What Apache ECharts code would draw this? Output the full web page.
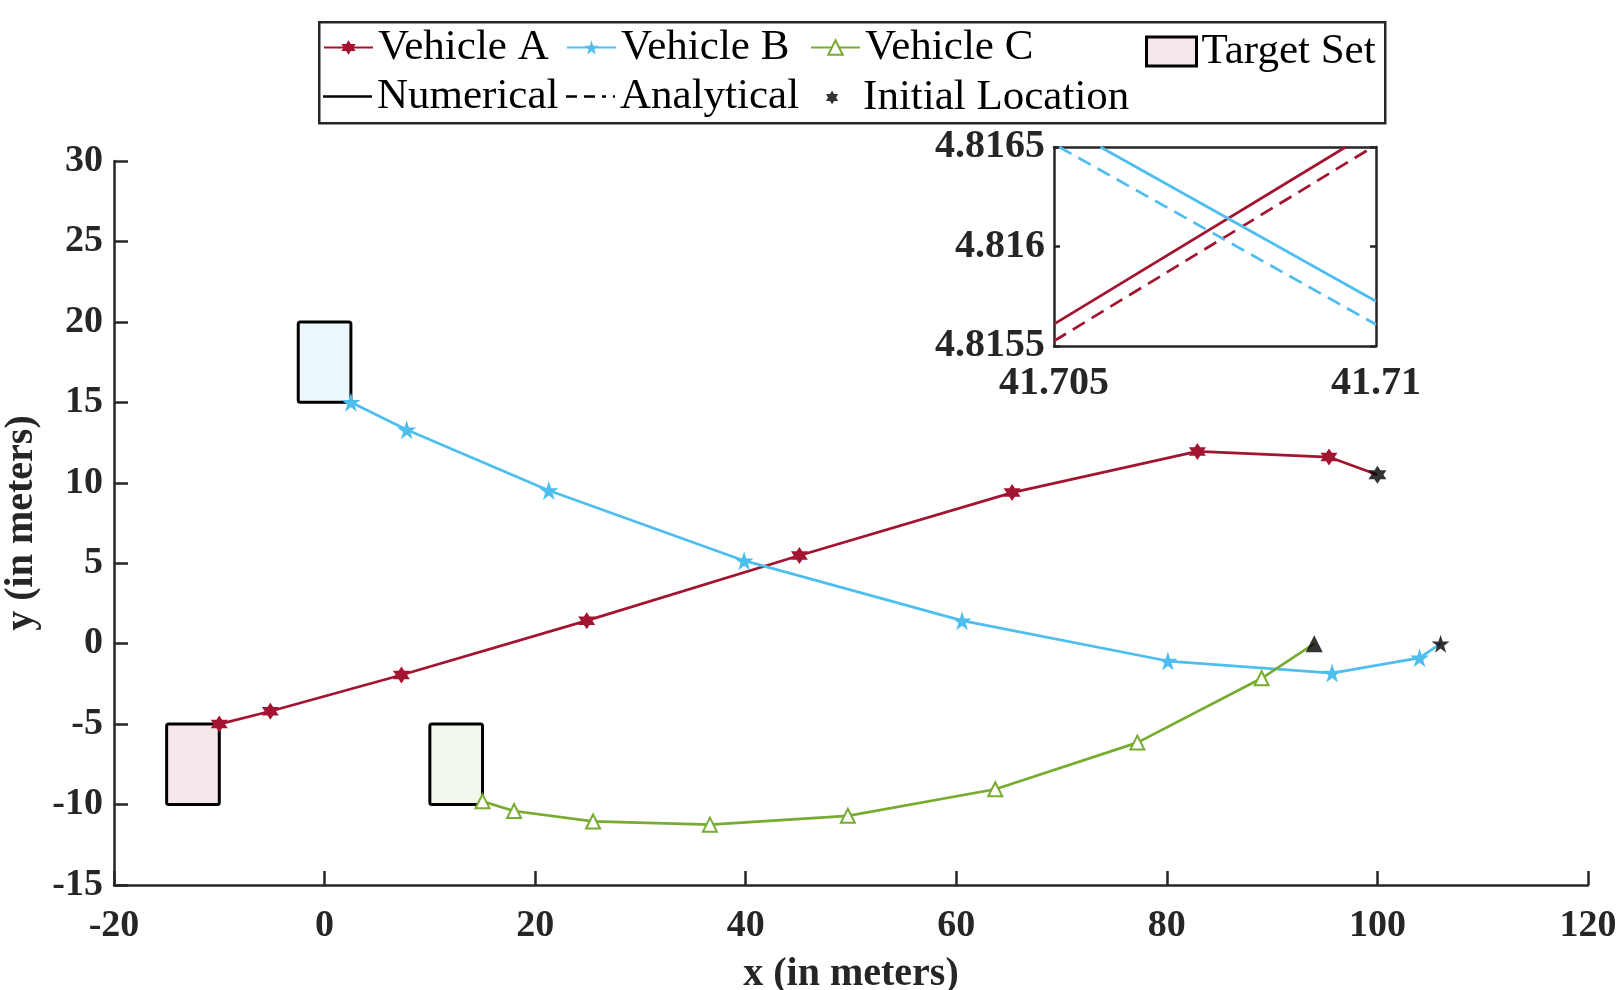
<!DOCTYPE html>
<html>
<head>
<meta charset="utf-8">
<script src="https://cdn.jsdelivr.net/npm/echarts@6/dist/echarts.min.js"></script>
<style>
    html, body {margin: 0; padding: 0; background: #fff;}
    #chart {width: 1620px; height: 990px;}
</style>
</head>
<body>
<div id="chart"></div>
<script>
// 轨迹数据 (x, y)，单位：米
var vehicleA = [[-10, -5], [-5.15, -4.2], [7.3, -1.95], [24.9, 1.43], [45.1, 5.48], [65.3, 9.39], [82.9, 11.95], [95.4, 11.6], [100, 10.5]];
var vehicleB = [[2.5, 15], [7.8, 13.3], [21.3, 9.52], [39.85, 5.16], [60.55, 1.43], [80.1, -1.08], [95.7, -1.83], [104, -0.88], [106, 0]];
var vehicleC = [[15, -9.8], [18, -10.4], [25.5, -11.05], [36.6, -11.25], [49.7, -10.7], [63.7, -9.05], [77.2, -6.15], [89, -2.15], [94, 0]];

// 初始位置
var initialPoints = [[100, 10.5], [106, 0], [94, 0]];

// 目标区域 [xmin, ymin, xmax, ymax]
var targetRects = [[-15, -10, -10, -5], [-2.5, 15, 2.5, 20], [10, -10, 15, -5]];
var targetFills = ['#F6E8EA', '#EDF8FD', '#F1F7EA'];

// 放大图 (交叉点附近)
var zoomANum = [[41.705, 4.81561], [41.70953, 4.8165]];
var zoomAAna = [[41.705, 4.815525], [41.70995, 4.8165]];
var zoomBNum = [[41.70572, 4.8165], [41.71, 4.815725]];
var zoomBAna = [[41.70508, 4.8165], [41.71, 4.815608]];

var colorA = '#A2142F';
var colorB = '#4DBEEE';
var colorC = '#77AC30';
var axisColor = '#262626';
var fontFamily = "'Liberation Serif', 'Times New Roman', serif";

var hexagram = 'path://M0,-1 L0.2887,-0.5 L0.866,-0.5 L0.5774,0 L0.866,0.5 L0.2887,0.5 L0,1 L-0.2887,0.5 L-0.866,0.5 L-0.5774,0 L-0.866,-0.5 L-0.2887,-0.5 Z';
var pentagram = 'path://M0,-1 L0.2245,-0.309 L0.951,-0.309 L0.3633,0.118 L0.5878,0.809 L0,0.382 L-0.5878,0.809 L-0.3633,0.118 L-0.951,-0.309 L-0.2245,-0.309 Z';
var initialSymbols = [hexagram, pentagram, 'triangle'];
// 图例中的实线 / 虚线图标
var solidIcon = 'path://M0,0 L49,0 L49,2.5 L0,2.5 Z';
var dashIcon = 'path://M0,0 L11,0 L11,2.5 L0,2.5 Z M18,0 L29,0 L29,2.5 L18,2.5 Z M36,0 L40,0 L40,2.5 L36,2.5 Z M47,0 L49,0 L49,2.5 L47,2.5 Z';

var tickFont = {color: axisColor, fontFamily: fontFamily, fontWeight: 'bold', fontSize: 38};
var insetFont = {color: axisColor, fontFamily: fontFamily, fontWeight: 'bold', fontSize: 40};
var titleFont = {color: axisColor, fontFamily: fontFamily, fontWeight: 'bold', fontSize: 40};

function trimNum(digits) {
    return function (v) {
        return String(+(+v).toFixed(digits));
    };
}

// 主图坐标轴
var mainX = {
    gridIndex: 0, type: 'value', min: -20, max: 120, interval: 20,
    name: 'x (in meters)', nameLocation: 'middle', nameGap: 70,
    nameTextStyle: titleFont,
    axisLine: {show: true, onZero: false, lineStyle: {color: axisColor, width: 2.5}},
    axisTick: {show: true, inside: true, length: 14, lineStyle: {color: axisColor, width: 2.5}},
    axisLabel: Object.assign({margin: 22}, tickFont),
    splitLine: {show: false}
};
var mainY = {
    gridIndex: 0, type: 'value', min: -15, max: 30, interval: 5,
    name: 'y (in meters)', nameLocation: 'middle', nameGap: 64, nameRotate: 90,
    nameTextStyle: titleFont,
    axisLine: {show: true, onZero: false, lineStyle: {color: axisColor, width: 2.5}},
    axisTick: {show: true, inside: true, length: 14, lineStyle: {color: axisColor, width: 2.5}},
    axisLabel: Object.assign({margin: 11}, tickFont),
    splitLine: {show: false}
};

// 放大图坐标轴 (四边框)
var frameLine = {show: true, onZero: false, lineStyle: {color: axisColor, width: 2.5}};
var insetXBottom = {
    gridIndex: 1, type: 'value', min: 41.705, max: 41.71, interval: 0.005, position: 'bottom',
    axisLine: frameLine, axisTick: {show: false},
    axisLabel: Object.assign({margin: 18, formatter: trimNum(4), showMinLabel: true, showMaxLabel: true}, insetFont),
    splitLine: {show: false}
};
var insetXTop = {
    gridIndex: 1, type: 'value', min: 41.705, max: 41.71, interval: 0.005, position: 'top',
    axisLine: frameLine, axisTick: {show: false}, axisLabel: {show: false}, splitLine: {show: false}
};
var insetYLeft = {
    gridIndex: 1, type: 'value', min: 4.8155, max: 4.8165, interval: 0.0005, position: 'left',
    axisLine: frameLine,
    axisTick: {show: true, inside: true, length: 6, lineStyle: {color: axisColor, width: 2.5}},
    axisLabel: Object.assign({margin: 9, formatter: trimNum(5), showMinLabel: true, showMaxLabel: true}, insetFont),
    splitLine: {show: false}
};
var insetYRight = {
    gridIndex: 1, type: 'value', min: 4.8155, max: 4.8165, interval: 0.0005, position: 'right',
    axisLine: frameLine,
    axisTick: {show: true, inside: true, length: 6, lineStyle: {color: axisColor, width: 2.5}},
    axisLabel: {show: false}, splitLine: {show: false}
};

function vehicleSeries(name, data, color, symbol, size) {
    var last = data.length - 1;
    return {
        name: name, type: 'line', xAxisIndex: 0, yAxisIndex: 0,
        data: data,
        symbol: symbol, showAllSymbol: true,
        // 最后一个点由“初始位置”系列画出
        symbolSize: function (v, p) { return p.dataIndex === last ? 0 : size; },
        itemStyle: {color: color, borderColor: color, borderWidth: symbol === 'emptyTriangle' ? 2.5 : 0},
        lineStyle: {color: color, width: 2.7},
        z: 3
    };
}

function insetSeries(data, color, dashed) {
    return {
        type: 'line', xAxisIndex: 1, yAxisIndex: 1, data: data,
        symbol: 'none', clip: true,
        lineStyle: {color: color, width: 2.7, type: dashed ? [14, 8] : 'solid'},
        z: 3
    };
}

var legendText = {color: '#000', fontFamily: fontFamily, fontSize: 43};
function legendAt(name, left, top, width, height, extra, textPad) {
    var item = Object.assign({name: name}, extra || {});
    var text = Object.assign({}, legendText);
    if (textPad) {
        text.padding = [0, 0, 0, textPad];
    }
    return {
        left: left, top: top, orient: 'horizontal', itemWidth: width, itemHeight: height,
        padding: 0, selectedMode: false, textStyle: text, data: [item]
    };
}

var chartDom = document.getElementById('chart');
var myChart = echarts.init(chartDom, null, {renderer: 'canvas'});

var option = {
    animation: false,
    backgroundColor: '#fff',
    grid: [
        {left: 114, top: 161, width: 1474, height: 724, containLabel: false, outerBoundsMode: 'none'},
        {left: 1054, top: 147, width: 322, height: 199, containLabel: false, outerBoundsMode: 'none'}
    ],
    xAxis: [mainX, insetXBottom, insetXTop],
    yAxis: [mainY, insetYLeft, insetYRight],
    legend: [
        legendAt('Vehicle A', 323, 26, 49, 18),
        legendAt('Vehicle B', 566, 26, 49, 18),
        legendAt('Vehicle C', 810, 26, 49, 18),
        legendAt('Target Set', 1145, 30, 50, 29, {icon: 'rect', itemStyle: {color: targetFills[0], borderColor: '#000', borderWidth: 3}}),
        legendAt('Numerical', 323, 75, 49, 2.5, {icon: solidIcon}),
        legendAt('Analytical', 566, 75, 49, 2.5, {icon: dashIcon}),
        legendAt('Initial Location', 826, 76, 14, 14, {icon: hexagram}, 19)
    ],
    graphic: [{
        type: 'rect', left: 318, top: 21,
        shape: {width: 1066, height: 101},
        style: {fill: '#fff', stroke: axisColor, lineWidth: 2.5},
        z: -10, silent: true
    }],
    series: [
        {
            name: 'Target Set', type: 'custom', xAxisIndex: 0, yAxisIndex: 0,
            data: targetRects,
            encode: {x: [0, 2], y: [1, 3]},
            itemStyle: {color: targetFills[0]},
            renderItem: function (params, api) {
                var p1 = api.coord([api.value(0), api.value(3)]);
                var p2 = api.coord([api.value(2), api.value(1)]);
                return {
                    type: 'rect',
                    shape: {x: p1[0], y: p1[1], width: p2[0] - p1[0], height: p2[1] - p1[1], r: 2},
                    style: {fill: targetFills[params.dataIndex], stroke: '#000', lineWidth: 3}
                };
            },
            z: 1
        },
        vehicleSeries('Vehicle A', vehicleA, colorA, hexagram, 17),
        vehicleSeries('Vehicle B', vehicleB, colorB, pentagram, 19),
        vehicleSeries('Vehicle C', vehicleC, colorC, 'emptyTriangle', 14),
        {
            name: 'Initial Location', type: 'scatter', xAxisIndex: 0, yAxisIndex: 0,
            data: initialPoints,
            symbol: function (v, p) { return initialSymbols[p.dataIndex]; },
            symbolSize: function (v, p) { return p.dataIndex === 2 ? 17 : 18; },
            itemStyle: {color: '#000'},
            z: 4
        },
        {name: 'Numerical', type: 'line', xAxisIndex: 1, yAxisIndex: 1, data: [], symbol: 'none',
            itemStyle: {color: '#000'}, lineStyle: {color: '#000', width: 2.5}},
        {name: 'Analytical', type: 'line', xAxisIndex: 1, yAxisIndex: 1, data: [], symbol: 'none',
            itemStyle: {color: '#000'}, lineStyle: {color: '#000', width: 2.5, type: [9, 7]}},
        insetSeries(zoomANum, colorA, false),
        insetSeries(zoomAAna, colorA, true),
        insetSeries(zoomBNum, colorB, false),
        insetSeries(zoomBAna, colorB, true)
    ]
};

option && myChart.setOption(option);
</script>
</body>
</html>
